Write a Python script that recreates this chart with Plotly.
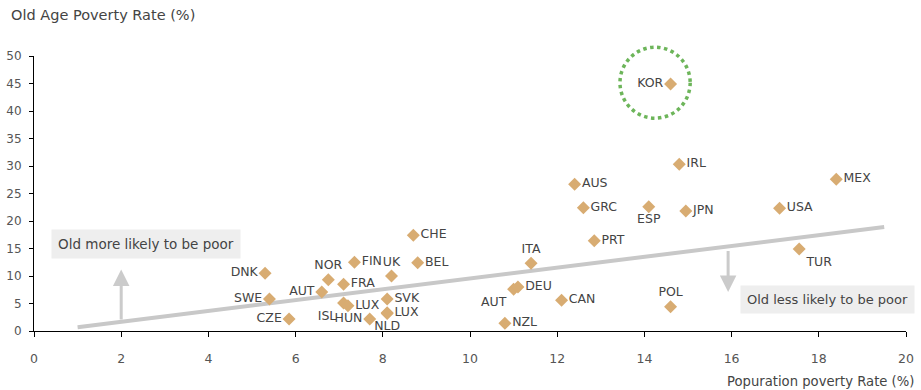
import plotly.graph_objects as go

countries = ["KOR", "IRL", "MEX", "AUS", "GRC", "ESP", "JPN", "USA", "CHE", "PRT",
             "TUR", "ITA", "BEL", "FIN", "NOR", "UK", "DNK", "SWE", "CZE", "AUT",
             "FRA", "ISL", "LUX", "HUN", "SVK", "LUX", "NLD", "AUT", "DEU", "CAN",
             "POL", "NZL"]
pop_poverty = [14.6, 14.8, 18.4, 12.4, 12.6, 14.1, 14.95, 17.1, 8.7, 12.85,
               17.55, 11.4, 8.8, 7.35, 6.75, 8.2, 5.3, 5.4, 5.85, 6.6,
               7.1, 7.1, 7.2, 7.7, 8.1, 8.1, 8.1, 11.0, 11.1, 12.1,
               14.6, 10.8]
old_poverty = [44.9, 30.3, 27.6, 26.7, 22.4, 22.6, 21.8, 22.3, 17.4, 16.4,
               14.9, 12.3, 12.4, 12.5, 9.3, 10.0, 10.5, 5.8, 2.2, 7.1,
               8.5, 5.1, 4.6, 2.2, 5.8, 3.3, 3.2, 7.6, 8.0, 5.6,
               4.4, 1.4]
label_pos = ["middle left", "middle right", "middle right", "middle right", "middle right",
             "bottom center", "middle right", "middle right", "middle right", "middle right",
             "bottom right", "top center", "middle right", "middle right", "top center",
             "top center", "middle left", "middle left", "middle left", "middle left",
             "middle right", "bottom left", "middle right", "middle left", "middle right",
             "middle right", "bottom center", "bottom left", "middle right", "middle right",
             "top center", "middle right"]

trend_x = [1.0, 19.5]
trend_y = [0.7, 18.9]

x_ticks = [0, 2, 4, 6, 8, 10, 12, 14, 16, 18, 20]
y_ticks = [0, 5, 10, 15, 20, 25, 30, 35, 40, 45, 50]

FONT = "DejaVu Sans, Arial, sans-serif"
TXT = "#444444"

fig = go.Figure()

fig.add_trace(go.Scatter(
    x=trend_x, y=trend_y, mode="lines",
    line=dict(color="#c8c8c8", width=4), hoverinfo="skip", showlegend=False))

fig.add_trace(go.Scatter(
    x=pop_poverty, y=old_poverty, mode="markers+text",
    text=countries, textposition=label_pos,
    textfont=dict(family=FONT, size=12.5, color=TXT),
    marker=dict(symbol="diamond", size=10, color="#D8AC72", line=dict(width=0)),
    cliponaxis=False, showlegend=False))

annotations = [
    dict(x=2, y=11.2, ax=2, ay=1.8, xref="x", yref="y", axref="x", ayref="y",
         text="", showarrow=True, arrowhead=2, arrowsize=1.1, arrowwidth=3,
         arrowcolor="#cbcbcb"),
    dict(x=15.92, y=7.1, ax=15.92, ay=14.8, xref="x", yref="y", axref="x", ayref="y",
         text="", showarrow=True, arrowhead=2, arrowsize=1.1, arrowwidth=3,
         arrowcolor="#cbcbcb"),
    dict(x=2.57, y=15.8, xref="x", yref="y", text="Old more likely to be poor",
         showarrow=False, bgcolor="#eeeeee", borderpad=6,
         font=dict(family=FONT, size=13.5, color=TXT)),
    dict(x=18.2, y=5.8, xref="x", yref="y", text="Old less likely to be poor",
         showarrow=False, bgcolor="#eeeeee", borderpad=6,
         font=dict(family=FONT, size=13, color=TXT)),
    dict(x=0, y=1, xref="paper", yref="paper", xanchor="left", yanchor="middle",
         text="Old Age Poverty Rate (%)", showarrow=False,
         xshift=-25, yshift=41, font=dict(family=FONT, size=14.5, color=TXT)),
    dict(x=1, y=0, xref="paper", yref="paper", xanchor="right", yanchor="middle",
         text="Popuration poverty Rate (%)", showarrow=False,
         xshift=10, yshift=-50, font=dict(family=FONT, size=13.2, color=TXT)),
]

shapes = [
    dict(type="circle", xref="x", yref="paper",
         x0=13.44, x1=15.05, y0=38.7 / 50, y1=51.6 / 50,
         line=dict(color="#6db55a", width=3.5, dash="dot"))
]

fig.update_layout(
    width=921, height=390,
    margin=dict(l=34, r=15, t=56, b=59),
    paper_bgcolor="white", plot_bgcolor="white",
    annotations=annotations, shapes=shapes,
    font=dict(family=FONT, size=12, color=TXT),
    xaxis=dict(range=[0, 20], tickvals=x_ticks, showgrid=False, zeroline=False,
               showline=True, linecolor="black", linewidth=1,
               ticks="outside", ticklen=5, tickcolor="black",
               ticklabelstandoff=11, automargin=False,
               tickfont=dict(family=FONT, size=12.5, color="#555555")),
    yaxis=dict(range=[0, 50], tickvals=y_ticks, showgrid=False, zeroline=False,
               showline=True, linecolor="black", linewidth=1,
               ticks="outside", ticklen=4, tickcolor="black",
               ticklabelstandoff=5, automargin=False,
               tickfont=dict(family=FONT, size=12, color="#555555")),
)

fig.write_html("out.html")
